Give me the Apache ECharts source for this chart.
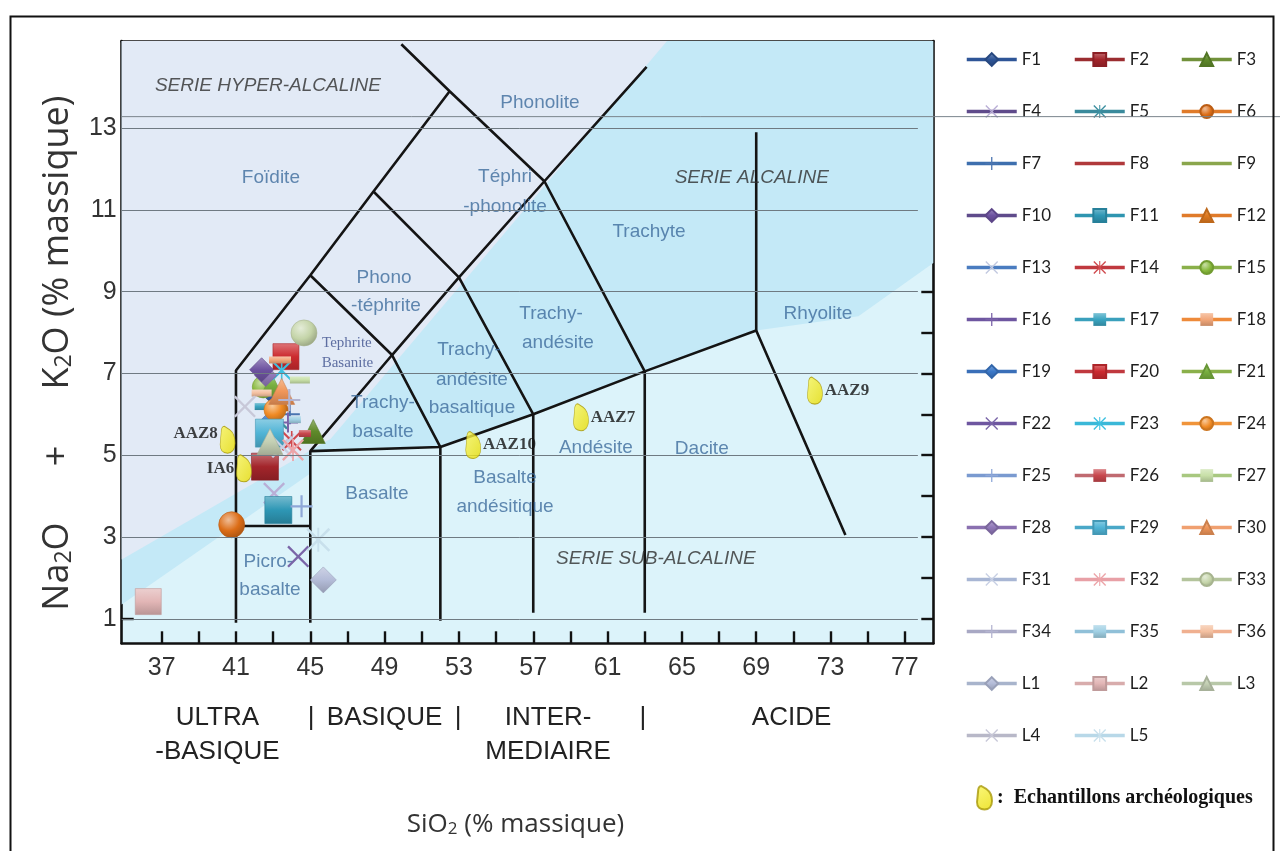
<!DOCTYPE html>
<html>
<head>
<meta charset="utf-8">
<title>Diagramme TAS</title>
<script src="https://cdn.jsdelivr.net/npm/echarts@6/dist/echarts.min.js"></script>
<style>
  html, body { margin: 0; padding: 0; background: #ffffff; }
  #chart { width: 1280px; height: 851px; }
</style>
</head>
<body>
<div id="chart"></div>
<script>
// ---------- axis ticks ----------
const xTickValues = [37, 39, 41, 43, 45, 47, 49, 51, 53, 55, 57, 59, 61, 63, 65, 67, 69, 71, 73, 75, 77];
const xLabelValues = [37, 41, 45, 49, 53, 57, 61, 65, 69, 73, 77];
const yTickValues = [1, 2, 3, 4, 5, 6, 7, 8, 9, 10, 11, 12, 13, 14];
const yLabelValues = [1, 3, 5, 7, 9, 11, 13];
const ruleValues = [1, 3, 5, 7, 9, 11, 13];
const longRuleValue = 13.28;

// ---------- samples (SiO2, Na2O + K2O) ----------
const sampleNames = ['F1', 'F2', 'F3', 'F4', 'F5', 'F6', 'F7', 'F8', 'F9', 'F10', 'F11', 'F12',
  'F13', 'F14', 'F15', 'F16', 'F17', 'F18', 'F19', 'F20', 'F21', 'F22', 'F23', 'F24',
  'F25', 'F26', 'F27', 'F28', 'F29', 'F30', 'F31', 'F32', 'F33', 'F34', 'F35', 'F36',
  'L1', 'L2', 'L3', 'L4', 'L5'];
const sampleSiO2 = [43.2, 42.56, 45.16, 43.05, 43.2, 40.77, 43.9, 43.5, 43.0, 42.38, 43.28, 43.3,
  43.6, 44.0, 42.47, 43.8, 42.33, 43.37, 42.8, 43.69, 42.92, 44.35, 43.46, 43.1,
  44.53, 44.71, 44.44, 42.6, 42.8, 43.46, 43.5, 44.07, 44.66, 43.87, 44.17, 42.38,
  45.7, 36.28, 42.83, 41.48, 45.43];
const sampleAlkali = [6.4, 4.72, 5.58, 4.07, 5.9, 3.30, 6.0, 6.0, 5.0, 7.09, 3.66, 6.35,
  5.3, 5.35, 6.67, 5.8, 6.19, 7.33, 5.8, 7.41, 6.72, 2.52, 7.07, 6.11,
  3.75, 5.53, 6.84, 6.95, 5.54, 6.56, 5.2, 5.13, 7.99, 6.35, 5.87, 6.52,
  1.95, 1.42, 5.33, 6.19, 2.93];

// ---------- archaeological samples ----------
const archNames = ['AAZ8', 'IA6', 'AAZ10', 'AAZ7', 'AAZ9'];
const archSiO2 = [40.55, 41.43, 53.77, 59.57, 72.16];
const archAlkali = [5.38, 4.68, 5.25, 5.93, 6.58];
const archSeriesName = 'Echantillons archéologiques';

// ---------- TAS field boundaries ----------
const tasBoundaries = [
  [[41, 0.9], [41, 7.07], [45, 9.4], [48.4, 11.45], [52.5, 13.9]],
  [[41, 3.27], [45, 3.27]],
  [[45, 0.9], [45, 5.1], [52, 5.2], [57, 6], [63, 7.05], [69, 8.05], [73.8, 3.05]],
  [[52, 0.95], [52, 5.2]],
  [[57, 1.15], [57, 6]],
  [[63, 1.15], [63, 7.05]],
  [[69, 8.05], [69, 12.9]],
  [[45, 5.1], [49.4, 7.45], [53, 9.35], [57.6, 11.7], [63.1, 14.5]],
  [[45, 9.4], [49.4, 7.45], [52, 5.2]],
  [[48.4, 11.45], [53, 9.35], [57, 6]],
  [[49.9, 15.05], [52.5, 13.9], [57.6, 11.7], [63, 7.05]]
];

// ---------- field names ----------
const fieldNames = [
  ['Phonolite', 57.36, 13.62, 'r'], ['Foïdite', 42.88, 11.78, 'r'],
  ['Téphri', 55.48, 11.8, 'r'], ['-phonolite', 55.48, 11.07, 'r'],
  ['Trachyte', 63.23, 10.46, 'r'], ['Phono', 48.97, 9.34, 'r'], ['-téphrite', 49.07, 8.65, 'r'],
  ['Trachy-', 57.96, 8.46, 'r'], ['andésite', 58.33, 7.75, 'r'],
  ['Trachy-', 53.54, 7.58, 'r'], ['andésite', 53.7, 6.84, 'r'], ['basaltique', 53.7, 6.16, 'r'],
  ['Trachy-', 48.91, 6.28, 'r'], ['basalte', 48.91, 5.57, 'r'],
  ['Basalte', 48.59, 4.06, 'r'], ['Basalte', 55.48, 4.45, 'r'], ['andésitique', 55.48, 3.74, 'r'],
  ['Picro-', 42.74, 2.39, 'r'], ['basalte', 42.83, 1.71, 'r'],
  ['Andésite', 60.37, 5.18, 'r'], ['Dacite', 66.07, 5.16, 'r'], ['Rhyolite', 72.32, 8.46, 'r'],
  ['SERIE HYPER-ALCALINE', 42.72, 14.03, 's'], ['SERIE ALCALINE', 68.76, 11.78, 's'],
  ['SERIE SUB-ALCALINE', 63.6, 2.47, 's'],
  ['Tephrite', 46.97, 7.75, 't'], ['Basanite', 47.0, 7.26, 't']
];

// ---------- silica classes under the axis ----------
const classPositions = [40, 45.05, 49, 52.95, 57.8, 62.9, 70.9];
const classTexts = ['ULTRA\n-BASIQUE', '|', 'BASIQUE', '|', 'INTER-\nMEDIAIRE', '|', 'ACIDE'];

// ---------- plot extent ----------
const X_MIN = 34.85, X_MAX = 78.53, Y_MIN = 0.4, Y_MAX = 15.13;

// ---------- background shading zones ----------
const bgZones = [
  { fill: '#c4e9f7', pts: [[X_MIN, 1.35], [45, 4.55], [45, 5.1], [52, 5.2], [57, 6], [63, 7.05], [69, 8.05], [74.5, 8.4], [X_MAX, 9.7], [X_MAX, Y_MAX], [X_MIN, Y_MAX]] },
  { fill: '#e2eaf6', pts: [[X_MIN, 2.45], [46.1, 5.4], [64.2, Y_MAX], [X_MIN, Y_MAX]] }
];

// ---------- marker shapes ----------
const CROSS = 'path://M0,1.5L1.5,0L10,8.5L18.5,0L20,1.5L11.5,10L20,18.5L18.5,20L10,11.5L1.5,20L0,18.5L8.5,10Z';
const STAR = 'path://M0,1.5L1.5,0L10,8.5L18.5,0L20,1.5L11.5,10L20,18.5L18.5,20L10,11.5L1.5,20L0,18.5L8.5,10Z M9.2,0H10.8V20H9.2Z';
const PLUS = 'path://M9,0H11V9H20V11H11V20H9V11H0V9H9Z';
const BAR = 'path://M0,0H20V10H0Z';
const PEBBLE = 'path://M4,0 L9,3 C12,5 14,9 14,14 C14,19 11,22 7,22 C3,22 0,20 0,15 L1,5 C1,2 2,0 4,0 Z';

const markerStyle = {
  F1: { s: 'diamond', c: '#2e5597', l: '#2e5597', z: 22 },
  F2: { s: 'rect', c: '#a3252b', l: '#9b2d30', z: 27 },
  F3: { s: 'triangle', c: '#5f8a2a', l: '#71913a', z: 24 },
  F4: { s: CROSS, c: '#b9aed6', l: '#5f4b8b', z: 22 },
  F5: { s: STAR, c: '#3c8fa0', l: '#3a8a9c', z: 22 },
  F6: { s: 'circle', c: '#dc6d17', l: '#e07b2a', z: 26 },
  F7: { s: PLUS, c: '#4a74b0', l: '#3e6fae', z: 20 },
  F8: { s: 'none', c: 'rgba(0,0,0,0)', l: '#b0393b', z: 0 },
  F9: { s: 'none', c: 'rgba(0,0,0,0)', l: '#8aa64c', z: 0 },
  F10: { s: 'diamond', c: '#6d52a0', l: '#5f4b8b', z: 24, top: true },
  F11: { s: 'rect', c: '#2e97b5', l: '#2e95b0', z: 27 },
  F12: { s: 'triangle', c: '#e07a20', l: '#e07b2a', z: 22 },
  F13: { s: CROSS, c: '#c2c9e0', l: '#4a7cc0', z: 20 },
  F14: { s: STAR, c: '#d04a4e', l: '#c0393f', z: 20 },
  F15: { s: 'circle', c: '#86b83a', l: '#8ab04a', z: 22 },
  F16: { s: PLUS, c: '#7a62a8', l: '#6e56a0', z: 20 },
  F17: { s: BAR, c: '#3aa4c0', l: '#3aa0bc', z: [12, 7] },
  F18: { s: BAR, c: '#f2a77a', l: '#ee8a3a', z: [22, 7], top: true },
  F19: { s: 'diamond', c: '#3b78c8', l: '#3a6fb8', z: 22 },
  F20: { s: 'rect', c: '#cc2b30', l: '#c0393f', z: 26 },
  F21: { s: 'triangle', c: '#79b040', l: '#8ab04a', z: 22 },
  F22: { s: CROSS, c: '#7a65a8', l: '#6e56a0', z: 22 },
  F23: { s: STAR, c: '#3cc0e0', l: '#3ab8d8', z: 20 },
  F24: { s: 'circle', c: '#f08a24', l: '#f0943a', z: 22 },
  F25: { s: PLUS, c: '#8fa8d8', l: '#7a9ad0', z: 22 },
  F26: { s: BAR, c: '#c8474d', l: '#c06a70', z: [12, 7] },
  F27: { s: BAR, c: '#c8e0a8', l: '#a8c880', z: [20, 7] },
  F28: { s: 'diamond', c: '#9078b8', l: '#8a70b0', z: 22 },
  F29: { s: 'rect', c: '#50b4d6', l: '#4aa8c8', z: 28 },
  F30: { s: 'triangle', c: '#f0965a', l: '#f0a070', z: 26 },
  F31: { s: CROSS, c: '#c8d0e4', l: '#a8b6d4', z: 22 },
  F32: { s: STAR, c: '#eca4a8', l: '#e8a0a6', z: 22 },
  F33: { s: 'circle', c: '#c4d4a8', l: '#b4c49c', z: 26 },
  F34: { s: PLUS, c: '#b4b4d0', l: '#a8a8c4', z: 22 },
  F35: { s: BAR, c: '#a0d0e4', l: '#90c0d8', z: [12, 7] },
  F36: { s: BAR, c: '#f4c0a0', l: '#f0b090', z: [20, 7] },
  L1: { s: 'diamond', c: '#b4bcd8', l: '#a8b4cc', z: 26 },
  L2: { s: 'rect', c: '#e2b6b6', l: '#d8acac', z: 26 },
  L3: { s: 'triangle', c: '#c4d0b4', l: '#b8c8a8', z: 26 },
  L4: { s: CROSS, c: '#c8c8d8', l: '#b8b8c8', z: 22 },
  L5: { s: STAR, c: '#c8e0ec', l: '#b8d8e8', z: 24 }
};

// ---------- colour helpers ----------
function mix(hex, target, t) {
  const a = parseInt(hex.slice(1), 16), b = parseInt(target.slice(1), 16);
  const ch = (v, s) => (v >> s) & 255;
  const m = s => Math.round(ch(a, s) + (ch(b, s) - ch(a, s)) * t);
  return 'rgb(' + m(16) + ',' + m(8) + ',' + m(0) + ')';
}
function glossy(hex, shape) {
  if (hex.charAt(0) !== '#') return hex;
  if (shape === 'circle') {
    return { type: 'radial', x: 0.38, y: 0.32, r: 0.75, colorStops: [
      { offset: 0, color: mix(hex, '#ffffff', 0.55) },
      { offset: 0.55, color: hex },
      { offset: 1, color: mix(hex, '#000000', 0.25) }] };
  }
  if (shape === 'rect' || shape === 'diamond' || shape === 'triangle' || shape === BAR) {
    return { type: 'linear', x: 0, y: 0, x2: 0, y2: 1, colorStops: [
      { offset: 0, color: mix(hex, '#ffffff', 0.35) },
      { offset: 0.5, color: hex },
      { offset: 1, color: mix(hex, '#000000', 0.18) }] };
  }
  return hex;
}
const solidShapes = ['rect', 'diamond', 'triangle', 'circle'];

// ---------- series ----------
const series = [];

series.push({
  type: 'custom', name: 'zones', silent: true, z: 1,
  data: bgZones.map(zn => zn.pts[0]),
  renderItem: (params, api) => {
    const zn = bgZones[params.dataIndex];
    return { type: 'polygon', shape: { points: zn.pts.map(p => api.coord(p)) }, style: { fill: zn.fill } };
  }
});

// horizontal rules
series.push({
  type: 'line', name: 'rules', data: [], silent: true, z: 2,
  markLine: {
    silent: true, symbol: ['none', 'none'], animation: false,
    label: { show: false },
    lineStyle: { color: '#6f7a82', width: 1, type: 'solid' },
    data: ruleValues.map(v => [{ coord: [X_MIN, v] }, { coord: [77.7, v] }])
  }
});

// field boundaries
tasBoundaries.forEach((pts, i) => {
  series.push({
    type: 'line', name: 'limite' + i, data: pts, symbol: 'none', silent: true, z: 2,
    lineStyle: { color: '#141414', width: 2.6 }
  });
});

// field names
const labelKinds = {
  r: { fontFamily: 'Liberation Sans', fontSize: 19, color: '#3d6b9c' },
  s: { fontFamily: 'Liberation Sans', fontSize: 19, fontStyle: 'italic', color: '#2e2e2e' },
  t: { fontFamily: 'Liberation Serif', fontSize: 15, color: '#3c4f8c' }
};
series.push({
  type: 'scatter', name: 'noms', silent: true, z: 2,
  symbolSize: 1, itemStyle: { color: 'rgba(0,0,0,0)' },
  data: fieldNames.map(f => ({
    name: f[0], value: [f[1], f[2]],
    label: Object.assign({ show: true, position: 'inside', formatter: '{b}' }, labelKinds[f[3]])
  }))
});

// sample points
sampleNames.forEach((nm, i) => {
  const st = markerStyle[nm];
  const solid = solidShapes.indexOf(st.s) >= 0;
  series.push({
    type: 'line', name: nm,
    data: [[sampleSiO2[i], sampleAlkali[i]]],
    symbol: st.s, symbolSize: st.z, z: st.top ? 4 : 3,
    itemStyle: {
      color: glossy(st.c, st.s),
      borderColor: solid ? mix(st.c, '#000000', 0.15) : 'rgba(0,0,0,0)',
      borderWidth: solid ? 0.6 : 0
    },
    lineStyle: { color: st.l, width: 4 },
    animation: false
  });
});

// archaeological samples
const archLabelPos = { AAZ8: ['left', [0, -6]], IA6: ['left', [0, 0]], AAZ10: ['right', [0, 0]], AAZ7: ['right', [0, 0]], AAZ9: ['right', [0, 0]] };
series.push({
  type: 'scatter', name: archSeriesName, z: 5,
  symbol: PEBBLE, symbolSize: [15, 27],
  itemStyle: {
    color: { type: 'linear', x: 0, y: 0, x2: 1, y2: 1, colorStops: [{ offset: 0, color: '#fbf65a' }, { offset: 1, color: '#e8dc00' }] },
    borderColor: '#a8980a', borderWidth: 0.8
  },
  data: archNames.map((nm, i) => ({
    name: nm, value: [archSiO2[i], archAlkali[i]],
    label: { show: true, formatter: '{b}', position: archLabelPos[nm][0], offset: archLabelPos[nm][1], distance: 2,
      fontFamily: 'Liberation Serif', fontWeight: 'bold', fontSize: 17, color: '#111' }
  }))
});

// ---------- legends ----------
const legendCommon = {
  orient: 'vertical', padding: 0, itemWidth: 50, itemHeight: 16, itemGap: 35, selectedMode: false,
  lineStyle: { width: 3.5 },
  textStyle: { fontFamily: 'Lato', fontSize: 17, color: '#1e1e1e', lineHeight: 16 }
};
const legendCols = [0, 1, 2].map(k => sampleNames.filter((n, i) => i % 3 === k));
const legends = legendCols.map((col, k) => Object.assign({}, legendCommon, {
  left: [965, 1073, 1180][k], top: 51, data: col
}));
legends.push({
  orient: 'vertical', padding: 0, left: 976, top: 785, itemWidth: 15, itemHeight: 24, selectedMode: false,
  data: [archSeriesName],
  formatter: n => ':  ' + n,
  textStyle: { fontFamily: 'Liberation Serif', fontSize: 20, fontWeight: 'bold', color: '#111' }
});

// ---------- axes ----------
const frameLine = { onZero: false, lineStyle: { color: '#111', width: 2.6 } };
const tickStyle = { inside: true, length: 12, lineStyle: { color: '#111', width: 2.4 } };
const axisFont = { fontFamily: 'Liberation Sans', fontSize: 25, color: '#333' };

const option = {
  animation: false,
  textStyle: { fontFamily: 'Liberation Sans' },
  grid: { left: 121.7, right: 346.7, top: 41, bottom: 207.7, show: true, backgroundColor: '#dcf3fa', borderWidth: 0 },
  legend: legends,
  xAxis: [
    {
      type: 'value', min: X_MIN, max: X_MAX, position: 'bottom',
      axisLine: frameLine,
      axisTick: Object.assign({ customValues: xTickValues }, tickStyle),
      axisLabel: Object.assign({ customValues: xLabelValues, margin: 12 }, axisFont),
      splitLine: { show: false },
      name: '{t|SiO}{s|2}{t| (% massique)}', nameLocation: 'middle', nameGap: 160,
      nameTextStyle: { padding: [0, 24, 0, 0], rich: {
        t: { fontFamily: 'Open Sans', fontSize: 26, color: '#333', lineHeight: 34, verticalAlign: 'bottom' },
        s: { fontFamily: 'Open Sans', fontSize: 17, color: '#333', lineHeight: 21, verticalAlign: 'bottom' } } }
    },
    {
      type: 'value', min: X_MIN, max: X_MAX, position: 'top',
      axisLine: frameLine,
      axisTick: Object.assign({ customValues: xTickValues }, tickStyle),
      axisLabel: { show: false }, splitLine: { show: false }
    },
    {
      type: 'value', min: X_MIN, max: X_MAX, position: 'bottom', offset: 58,
      axisLine: { show: false }, axisTick: { show: false }, splitLine: { show: false },
      axisLabel: {
        customValues: classPositions, margin: 0,
        formatter: v => classTexts[classPositions.indexOf(v)],
        fontFamily: 'Liberation Sans', fontSize: 26, lineHeight: 34, color: '#222'
      }
    }
  ],
  yAxis: [
    {
      type: 'value', min: Y_MIN, max: Y_MAX, position: 'left',
      axisLine: frameLine,
      axisTick: Object.assign({ customValues: yTickValues }, tickStyle),
      axisLabel: Object.assign({ customValues: yLabelValues, margin: 5 }, axisFont),
      splitLine: { show: false },
      name: '{t|Na}{s|2}{t|O      +      K}{s|2}{t|O (% massique)}', nameLocation: 'middle', nameGap: 46,
      nameTextStyle: { padding: [0, 22, 0, 0], rich: {
        t: { fontFamily: 'Open Sans', fontSize: 36, color: '#333', lineHeight: 44, verticalAlign: 'bottom' },
        s: { fontFamily: 'Open Sans', fontSize: 23, color: '#333', lineHeight: 29, verticalAlign: 'bottom' } } }
    },
    {
      type: 'value', min: Y_MIN, max: Y_MAX, position: 'right',
      axisLine: frameLine,
      axisTick: Object.assign({ customValues: yTickValues }, tickStyle),
      axisLabel: { show: false }, splitLine: { show: false }
    }
  ],
  series: series.map(s => Object.assign({ xAxisIndex: 0, yAxisIndex: 0 }, s))
};

const chart = echarts.init(document.getElementById('chart'), null, { renderer: 'canvas' });
chart.setOption(option);

// page frame and the long rule across the legend, placed from the axis scales
const ruleStart = chart.convertToPixel({ xAxisIndex: 0, yAxisIndex: 0 }, [X_MIN, longRuleValue]);
chart.setOption({
  graphic: [
    { type: 'rect', left: 8, top: 14, shape: { width: 1263, height: 860 }, style: { fill: null, stroke: '#111', lineWidth: 2 }, silent: true, z: 100 },
    { type: 'line', shape: { x1: ruleStart[0], y1: ruleStart[1], x2: 1280, y2: ruleStart[1] }, style: { stroke: '#7a848c', lineWidth: 1 }, silent: true, z: 50 }
  ]
});
</script>
</body>
</html>
